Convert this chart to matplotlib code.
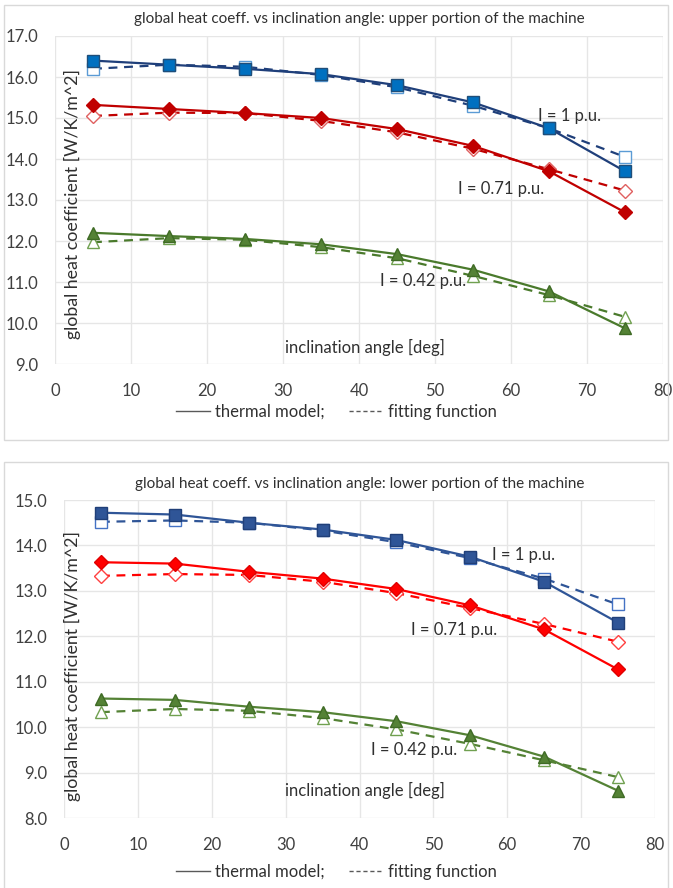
import matplotlib
matplotlib.use("Agg")
import matplotlib.pyplot as plt
from matplotlib.patches import Rectangle
from matplotlib.lines import Line2D

plt.rcParams['font.family'] = ['Lato', 'DejaVu Sans']

angles = [5, 15, 25, 35, 45, 55, 65, 75]

# upper portion
up_i1_model = [16.40, 16.30, 16.20, 16.07, 15.80, 15.38, 14.75, 13.70]
up_i1_fit = [16.20, 16.30, 16.25, 16.05, 15.75, 15.30, 14.75, 14.05]
up_i071_model = [15.32, 15.22, 15.12, 15.00, 14.73, 14.32, 13.70, 12.70]
up_i071_fit = [15.05, 15.13, 15.12, 14.93, 14.65, 14.25, 13.75, 13.23]
up_i042_model = [12.20, 12.12, 12.05, 11.92, 11.68, 11.30, 10.77, 9.87]
up_i042_fit = [11.97, 12.07, 12.03, 11.85, 11.58, 11.15, 10.68, 10.15]

# lower portion
lo_i1_model = [14.72, 14.68, 14.50, 14.35, 14.12, 13.75, 13.20, 12.30]
lo_i1_fit = [14.52, 14.55, 14.50, 14.33, 14.07, 13.72, 13.27, 12.70]
lo_i071_model = [13.63, 13.60, 13.42, 13.27, 13.04, 12.68, 12.15, 11.27]
lo_i071_fit = [13.33, 13.37, 13.35, 13.20, 12.95, 12.62, 12.27, 11.88]
lo_i042_model = [10.63, 10.60, 10.45, 10.33, 10.13, 9.82, 9.35, 8.60]
lo_i042_fit = [10.33, 10.40, 10.36, 10.20, 9.95, 9.63, 9.27, 8.90]

W, H = 673, 888
fig = plt.figure(figsize=(W / 100, H / 100), dpi=100)

# panel borders
for (x0, y0, x1, y1) in [(4, 5, 668, 440), (4, 462, 668, 892)]:
    fig.patches.append(Rectangle((x0 / W, 1 - y1 / H), (x1 - x0) / W, (y1 - y0) / H,
                                 transform=fig.transFigure, fill=False,
                                 edgecolor='#D9D9D9', linewidth=1.0))


def ax_rect(l, t, r, b):
    return [l / W, 1 - b / H, (r - l) / W, (b - t) / H]


def draw(ax, series, colors, ylim, title, ann, ylab_pos, xlab_pos, legend_y):
    for (model, fit), (lc, mfc, mec, fec, mk, ms) in zip(series, colors):
        ax.plot(angles, fit, linestyle=(0, (4, 3)), color=lc, linewidth=1.6,
                marker=mk, markersize=ms, markerfacecolor='white',
                markeredgecolor=fec, markeredgewidth=1.0, zorder=3)
        ax.plot(angles, model, linestyle='-', color=lc, linewidth=1.6,
                marker=mk, markersize=ms, markerfacecolor=mfc,
                markeredgecolor=mec, markeredgewidth=1.0, zorder=4)
    ax.set_xlim(0, 80)
    ax.set_ylim(*ylim)
    ax.set_xticks(range(0, 81, 10))
    yt = list(range(int(ylim[0]), int(ylim[1]) + 1))
    ax.set_yticks(yt)
    ax.set_yticklabels([f"{v:.1f}" for v in yt])
    ax.grid(True, color='#E6E6E6', linewidth=1.0)
    ax.set_axisbelow(True)
    for s in ax.spines.values():
        s.set_visible(False)
    ax.tick_params(axis='both', length=0, labelsize=12, colors='#404040')
    ax.tick_params(axis='x', pad=14)
    ax.tick_params(axis='y', pad=12)
    ax.set_title(title, fontsize=11, color='#303030', pad=9)
    for txt, x, y in ann:
        ax.text(x, y, txt, fontsize=12, color='#303030', ha='left', va='center')
    ax.text(ylab_pos[0], ylab_pos[1], 'global heat coefficient [W/K/m^2]',
            rotation=90, fontsize=12.8, color='#303030', ha='center', va='center')
    ax.text(xlab_pos[0], xlab_pos[1], 'inclination angle [deg]', fontsize=12,
            color='#303030', ha='center', va='center')
    handles = [Line2D([], [], color='#595959', linewidth=1.0, linestyle='-'),
               Line2D([], [], color='#595959', linewidth=1.0, linestyle=(0, (3, 2)))]
    fig.legend(handles, ['thermal model;', 'fitting function'],
               loc='center', bbox_to_anchor=(0.5, 1 - legend_y / H), ncol=2,
               frameon=False, fontsize=12, handlelength=2.0, handletextpad=0.3,
               columnspacing=1.5, labelcolor='#303030')


ax1 = fig.add_axes(ax_rect(55, 36, 663, 364))
draw(ax1,
     [(up_i1_model, up_i1_fit), (up_i071_model, up_i071_fit), (up_i042_model, up_i042_fit)],
     [('#1F3F7A', '#0070C0', '#1F4E79', '#5B9BD5', 's', 8),
      ('#C00000', '#C00000', '#C00000', '#E06060', 'D', 7),
      ('#4A7A2C', '#548235', '#3F6B25', '#70A050', '^', 8)],
     (9, 17), 'global heat coeff. vs inclination angle: upper portion of the machine',
     [('I = 1 p.u.', 63.5, 15.05), ('I = 0.71 p.u.', 53.0, 13.27), ('I = 0.42 p.u.', 42.8, 11.02)],
     (2.3, 12.9), (40.8, 9.4), 412)

ax2 = fig.add_axes(ax_rect(64, 500, 655, 818))
draw(ax2,
     [(lo_i1_model, lo_i1_fit), (lo_i071_model, lo_i071_fit), (lo_i042_model, lo_i042_fit)],
     [('#2F5597', '#2F5597', '#203F78', '#4472C4', 's', 8),
      ('#FF0000', '#FF0000', '#E00000', '#FF4040', 'D', 7),
      ('#548235', '#548235', '#3F6B25', '#70A050', '^', 8)],
     (8, 15), 'global heat coeff. vs inclination angle: lower portion of the machine',
     [('I = 1 p.u.', 58.0, 13.78), ('I = 0.71 p.u.', 47.0, 12.13), ('I = 0.42 p.u.', 41.6, 9.49)],
     (1.2, 11.35), (40.7, 8.6), 872)

fig.savefig('out.png', dpi=100)
